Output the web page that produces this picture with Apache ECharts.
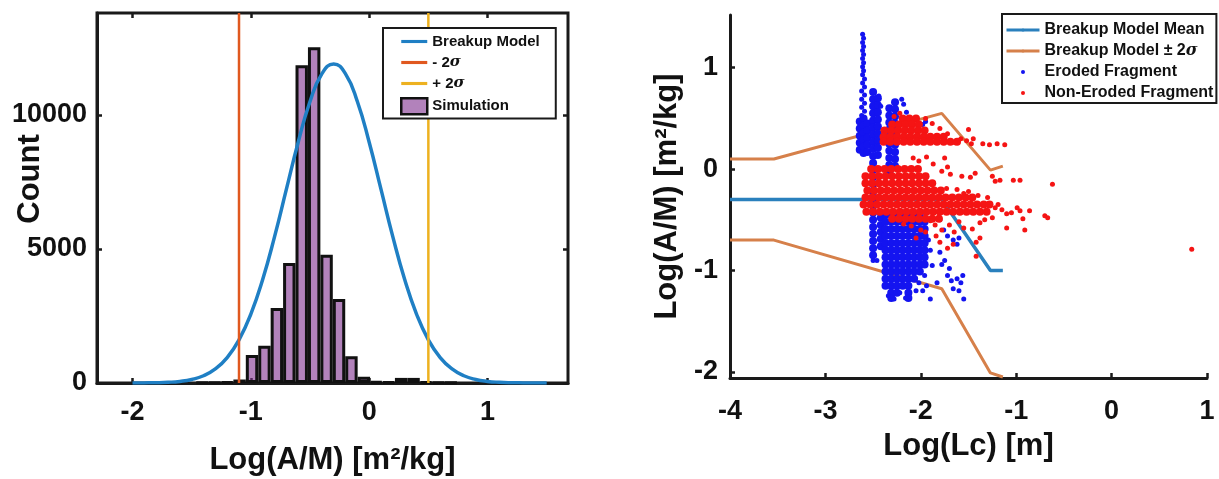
<!DOCTYPE html>
<html>
<head>
<meta charset="utf-8">
<title>Breakup model vs simulation</title>
<script src="https://cdn.jsdelivr.net/npm/echarts@6/dist/echarts.min.js"></script>
<style>
  html, body { margin: 0; padding: 0; background: #fff; }
  #main { width: 1219px; height: 479px; }
</style>
</head>
<body>
<div id="main"></div>
<script>
// ---------- left panel: histogram of Log(A/M) ----------
var binCenters = [-1.41, -1.305, -1.2, -1.095, -0.99, -0.885, -0.78, -0.675, -0.57, -0.465,
                  -0.36, -0.255, -0.15, -0.045, 0.06, 0.165, 0.27, 0.375, 0.48, 0.585, 0.69];
var binCounts = [10, 20, 40, 130, 1040, 1390, 2800, 4480, 11850, 12520,
                 4780, 3130, 1000, 230, 50, 40, 190, 190, 40, 20, 10];
var binStep = 0.105;

var modelX = [-2.0, -1.9, -1.8, -1.7, -1.6, -1.5, -1.4, -1.3, -1.2, -1.1, -1.0, -0.9, -0.8, -0.7, -0.6, -0.5, -0.4, -0.3,
              -0.2, -0.1, 0.0, 0.1, 0.2, 0.3, 0.4, 0.5, 0.6, 0.7, 0.8, 0.9, 1.0, 1.1, 1.2, 1.3, 1.4, 1.5];
var modelCount = [1, 4, 10, 26, 60, 132, 271, 523, 947, 1610, 2570, 3860, 5450, 7220, 8980, 10500, 11530, 11900,
                  11530, 10500, 8980, 7220, 5450, 3860, 2570, 1610, 947, 523, 271, 132, 60, 26, 10, 4, 1, 0];
var sigmaMinus = -1.1;
var sigmaPlus = 0.5;
var histXRange = [-2.3, 1.68];
var histYRange = [0, 13800];
var histXTicks = [-2, -1, 0, 1];
var histYTicks = [0, 5000, 10000];

// ---------- right panel: Log(A/M) vs Log(Lc) ----------
var meanLc = [-4, -1.78, -1.27, -1.14];
var meanAM = [-0.3, -0.3, -1.0, -1.0];
var upperLc = [-4, -3.54, -1.78, -1.27, -1.14];
var upperAM = [0.1, 0.1, 0.55, -0.01, 0.03];
var lowerLc = [-4, -3.54, -1.78, -1.27, -1.14];
var lowerAM = [-0.7, -0.7, -1.18, -2.01, -2.05];
var lcRange = [-4, 1];
var amRange = [-2.06, 1.52];
var amTicks = [-2, -1, 0, 1];

// eroded fragments: dense vertical streaks, [Lc, [A/M values...]]
var erodedColumns = [
  [-2.64, [0.47, 0.4, 0.33, 0.26, 0.19]],
  [-2.6, [0.5, 0.43, 0.36, 0.29, 0.22, 0.16]],
  [-2.56, [0.45, 0.38, 0.31, 0.24, 0.17]],
  [-2.5, [0.76, 0.69, 0.62, 0.55, 0.48, 0.41, 0.34, 0.27, 0.2, 0.13, 0.06, -0.01, -0.08, -0.15, -0.22, -0.29,
          -0.36, -0.43, -0.5, -0.57, -0.64, -0.71, -0.78, -0.85]],
  [-2.45, [0.7, 0.63, 0.56, 0.49, 0.42, 0.35, 0.28, 0.21, 0.14]],
  [-2.42, [-0.48, -0.55, -0.62, -0.69, -0.76]],
  [-2.33, [0.6, 0.53, 0.46, 0.39, 0.32, 0.25, 0.18, 0.11, 0.04, -0.03]],
  [-2.27, [0.66, 0.59, 0.52, 0.45, 0.38, 0.31, 0.24, 0.17, 0.1, 0.03]],
  [-2.37, [-0.45, -0.52, -0.59, -0.66, -0.73, -0.8, -0.87, -0.94, -1.01, -1.08, -1.15]],
  [-2.31, [-0.45, -0.52, -0.59, -0.66, -0.73, -0.8, -0.87, -0.94, -1.01, -1.08, -1.15, -1.22, -1.27]],
  [-2.25, [-0.45, -0.52, -0.59, -0.66, -0.73, -0.8, -0.87, -0.94, -1.01, -1.08, -1.15, -1.22]],
  [-2.19, [-0.45, -0.52, -0.59, -0.66, -0.73, -0.8, -0.87, -0.94, -1.01, -1.08, -1.15]],
  [-2.13, [-0.45, -0.52, -0.59, -0.66, -0.73, -0.8, -0.87, -0.94, -1.01, -1.08, -1.15, -1.22, -1.27]],
  [-2.07, [-0.45, -0.52, -0.59, -0.66, -0.73, -0.8, -0.87, -0.94, -1.01, -1.08]],
  [-2.01, [-0.45, -0.52, -0.59, -0.66, -0.73, -0.8, -0.87, -0.94, -1.01]],
  [-1.96, [-0.52, -0.59, -0.66, -0.73, -0.8, -0.87, -0.94]]
];
// eroded fragments: single dots
var erodedDots = [
  [-2.61, 1.33], [-2.6, 1.29], [-2.61, 1.25], [-2.6, 1.21], [-2.61, 1.17], [-2.6, 1.13], [-2.61, 1.09], [-2.6, 1.05],
  [-2.61, 1.01], [-2.6, 0.97], [-2.61, 0.93], [-2.59, 0.89], [-2.61, 0.85], [-2.59, 0.81], [-2.62, 0.77], [-2.59, 0.73],
  [-2.62, 0.69], [-2.59, 0.65], [-2.62, 0.61], [-2.59, 0.57], [-2.62, 0.53],
  [-2.2, 0.69], [-2.18, 0.64], [-2.15, 0.56], [-1.98, 0.44], [-1.95, 0.47], [-2.42, 0.62], [-2.44, 0.72],
  [-2.46, -0.9], [-2.5, -0.9],
  [-1.92, -0.7], [-1.9, -0.8], [-1.88, -0.95], [-1.85, -0.42], [-1.8, -0.5], [-1.76, -0.6], [-1.72, -0.66],
  [-1.8, -0.82], [-1.75, -0.9], [-1.78, -0.94], [-1.66, -0.7], [-1.62, -0.74], [-1.6, -0.68], [-1.83, -1.12],
  [-1.9, -1.28], [-1.72, -1.05], [-1.68, -1.1], [-1.62, -1.08], [-1.58, -1.12], [-1.56, -1.05], [-1.6, -1.2],
  [-1.55, -1.28], [-1.66, -1.18], [-1.7, -0.98], [-1.96, -1.05], [-1.94, -1.15], [-1.98, -1.2], [-2.02, -1.12],
  [-2.05, -1.2], [-2.16, -1.27], [-2.28, -1.28], [-2.34, -1.25], [-2.22, -1.22]
];

// non-eroded fragments: dense horizontal bands, [A/M, [Lc values...]]
var nonErodedRows = [
  [0.5, [-2.19, -2.12, -2.05]],
  [0.44, [-2.3, -2.23, -2.16, -2.09, -2.02]],
  [0.38, [-2.38, -2.31, -2.24, -2.17, -2.1, -2.03, -1.96]],
  [0.32, [-2.39, -2.32, -2.25, -2.18, -2.11, -2.04, -1.97, -1.9, -1.83, -1.76]],
  [0.27, [-2.39, -2.32, -2.25, -2.18, -2.11, -2.04, -1.97, -1.9, -1.83, -1.76, -1.69, -1.62]],
  [0.0, [-2.52, -2.45, -2.38, -2.31, -2.24, -2.17, -2.1, -2.03]],
  [-0.07, [-2.58, -2.51, -2.44, -2.37, -2.3, -2.23, -2.16, -2.09, -2.02, -1.95]],
  [-0.14, [-2.58, -2.51, -2.44, -2.37, -2.3, -2.23, -2.16, -2.09, -2.02, -1.95, -1.88]],
  [-0.21, [-2.56, -2.49, -2.42, -2.35, -2.28, -2.21, -2.14, -2.07, -2.0, -1.93, -1.86, -1.79]],
  [-0.28, [-2.58, -2.51, -2.44, -2.37, -2.3, -2.23, -2.16, -2.09, -2.02, -1.95, -1.88, -1.81, -1.74, -1.67, -1.6, -1.53, -1.46]],
  [-0.35, [-2.6, -2.53, -2.46, -2.39, -2.32, -2.25, -2.18, -2.11, -2.04, -1.97, -1.9, -1.83, -1.76, -1.69, -1.62,
           -1.55, -1.48, -1.41, -1.34, -1.28]],
  [-0.42, [-2.57, -2.5, -2.43, -2.36, -2.29, -2.22, -2.15, -2.08, -2.01, -1.94, -1.87, -1.8, -1.73, -1.66, -1.59,
           -1.52, -1.45, -1.38, -1.31]],
  [-0.49, [-2.3, -2.23, -2.16, -2.09, -2.02, -1.95, -1.88, -1.81]]
];
// non-eroded fragments: single dots
var nonErodedDots = [
  [-1.52, 0.28], [-1.47, 0.25], [-1.45, 0.3], [-1.5, 0.39], [-1.35, 0.25], [-1.28, 0.24], [-1.2, 0.25], [-1.12, 0.24],
  [-1.58, 0.3], [-1.64, 0.26], [-1.72, 0.35], [-1.8, 0.4], [-1.88, 0.45], [-1.95, 0.5], [-2.28, 0.52], [-2.22, 0.55],
  [-2.08, 0.11], [-2.02, 0.08], [-1.94, 0.12], [-1.87, 0.05], [-1.75, 0.11], [-1.72, 0.02], [-1.78, -0.02],
  [-1.69, -0.05], [-1.57, -0.07], [-1.48, -0.08], [-1.43, -0.04], [-1.25, -0.07], [-1.22, -0.12], [-1.17, -0.11],
  [-1.03, -0.11], [-0.96, -0.11], [-0.62, -0.15], [-1.62, -0.2], [-1.73, -0.19], [-1.55, -0.24], [-1.5, -0.22],
  [-1.4, -0.26], [-1.3, -0.28],
  [-1.22, -0.38], [-1.19, -0.35], [-1.15, -0.4], [-1.1, -0.44], [-1.05, -0.43], [-0.99, -0.38], [-0.96, -0.41],
  [-0.86, -0.41], [-0.93, -0.49], [-0.91, -0.6], [-0.7, -0.46], [-0.67, -0.48],
  [-1.1, -0.58], [-1.25, -0.48], [-1.38, -0.53], [-1.33, -0.5], [-1.46, -0.59], [-1.38, -0.68], [-1.42, -0.72],
  [-1.42, -0.86], [-1.55, -0.58], [-1.6, -0.52], [-1.65, -0.62], [-1.7, -0.55], [-1.66, -0.74], [-1.78, -0.6],
  [-1.72, -0.78], [-1.8, -0.72], [-1.85, -0.55], [-1.9, -0.51], [-1.95, -0.62], [-2.0, -0.6], [-2.05, -0.68],
  [-2.1, -0.56], [-2.18, -0.54], [-1.84, -0.66],
  [0.84, -0.79]
];

// ---------- build series data ----------
function zip(xs, ys) {
  return xs.map(function (x, i) { return [x, ys[i]]; });
}
var histData = zip(binCenters, binCounts);
var modelData = zip(modelX, modelCount);
var erodedDense = [];
erodedColumns.forEach(function (c) { c[1].forEach(function (y) { erodedDense.push([c[0], y]); }); });
var nonErodedDense = [];
nonErodedRows.forEach(function (r) { r[1].forEach(function (x) { nonErodedDense.push([x, r[0]]); }); });

var FONT = '"Liberation Sans", Arial, Helvetica, sans-serif';
var INK = '#1a1a1a';
var tickFont = { fontFamily: FONT, fontWeight: 'bold', fontSize: 27, color: '#111' };
var nameFont = { fontFamily: FONT, fontWeight: 'bold', fontSize: 31, color: '#111' };

// left grid geometry (px), used for the bar width
var leftGrid = { left: 97, top: 13, width: 471, height: 370 };
var barPx = leftGrid.width / (histXRange[1] - histXRange[0]) * binStep;

// flat bar used as legend icon for line series (no marker)
var LINE_ICON = 'path://M0,0H100V12H0Z';

function sigmaFmt(name) {
  var i = name.indexOf('σ');
  if (i < 0) return name;
  return '{b|' + name.slice(0, i) + '}{s|σ}';
}
function legendText(size) {
  return {
    fontFamily: FONT, fontWeight: 'bold', fontSize: size, color: '#111',
    rich: {
      b: { fontFamily: FONT, fontWeight: 'bold', fontSize: size, color: '#111' },
      s: { fontFamily: '"DejaVu Serif", serif', fontStyle: 'italic', fontWeight: 'bold', fontSize: size, color: '#111' }
    }
  };
}

var chart = echarts.init(document.getElementById('main'), null, { renderer: 'canvas' });

var option = {
  animation: false,
  backgroundColor: '#fff',
  grid: [
    { left: leftGrid.left, top: leftGrid.top, width: leftGrid.width, height: leftGrid.height,
      outerBoundsMode: 'none', containLabel: false,
      show: true, borderColor: INK, borderWidth: 3, backgroundColor: 'transparent' },
    { left: 730, top: 15, width: 477, height: 363, outerBoundsMode: 'none', containLabel: false }
  ],
  // y title of the histogram, placed a little above the axis middle as in the figure
  graphic: [{
    type: 'text', x: 30, y: 179, rotation: Math.PI / 2,
    style: { text: 'Count', font: 'bold 31px "Liberation Sans", Arial, sans-serif', fill: '#111',
             align: 'center', verticalAlign: 'middle' }
  }],
  legend: [
    {
      data: [
        { name: 'Breakup Model', icon: LINE_ICON },
        { name: '- 2σ', icon: LINE_ICON },
        { name: '+ 2σ', icon: LINE_ICON },
        { name: 'Simulation', icon: 'rect', itemStyle: { borderColor: '#111', borderWidth: 2.5 } }
      ],
      orient: 'vertical', left: 383, top: 28,
      selectedMode: false,
      backgroundColor: '#fff', borderColor: INK, borderWidth: 2,
      padding: [6, 16, 3, 17],
      itemWidth: 26, itemHeight: 16, itemGap: 6,
      itemStyle: { borderWidth: 0 },
      formatter: sigmaFmt,
      textStyle: legendText(15)
    },
    {
      data: ['Breakup Model Mean', 'Breakup Model ± 2σ',
             { name: 'Eroded Fragment', icon: 'circle' }, { name: 'Non-Eroded Fragment', icon: 'circle' }],
      orient: 'vertical', left: 1002, top: 14,
      selectedMode: false,
      backgroundColor: '#fff', borderColor: INK, borderWidth: 2,
      padding: [8, 3, 2, 3],
      itemWidth: 33, itemHeight: 4, itemGap: 5,
      lineStyle: { width: 3 },
      formatter: sigmaFmt,
      textStyle: legendText(16)
    }
  ],
  xAxis: [
    {
      gridIndex: 0, type: 'value', min: histXRange[0], max: histXRange[1],
      axisLine: { show: true, onZero: false, lineStyle: { color: INK, width: 3 } },
      axisTick: { show: true, inside: true, length: 5, customValues: histXTicks, lineStyle: { color: INK, width: 2.5 } },
      axisLabel: { customValues: histXTicks, margin: 16, formatter: function (v) { return String(v); } },
      splitLine: { show: false },
      name: 'Log(A/M) [m²/kg]', nameLocation: 'middle', nameGap: 62, nameTextStyle: nameFont
    },
    {
      gridIndex: 0, type: 'value', position: 'top', min: histXRange[0], max: histXRange[1],
      axisLine: { show: false, onZero: false },
      axisTick: { show: true, inside: true, length: 5, customValues: histXTicks, lineStyle: { color: INK, width: 2.5 } },
      axisLabel: { show: false }, splitLine: { show: false }
    },
    {
      gridIndex: 1, type: 'value', min: lcRange[0], max: lcRange[1], interval: 1,
      axisLine: { show: true, onZero: false, lineStyle: { color: INK, width: 3 } },
      axisTick: { show: true, inside: true, length: 5, lineStyle: { color: INK, width: 2.5 } },
      axisLabel: { margin: 20 },
      splitLine: { show: false },
      name: 'Log(Lc) [m]', nameLocation: 'middle', nameGap: 53, nameTextStyle: nameFont
    }
  ],
  yAxis: [
    {
      gridIndex: 0, type: 'value', min: histYRange[0], max: histYRange[1],
      axisLine: { show: true, onZero: false, lineStyle: { color: INK, width: 3 } },
      axisTick: { show: true, inside: true, length: 5, customValues: histYTicks, lineStyle: { color: INK, width: 2.5 } },
      axisLabel: { customValues: histYTicks, margin: 10, formatter: function (v) { return String(v); } },
      splitLine: { show: false }
    },
    {
      gridIndex: 0, type: 'value', position: 'right', min: histYRange[0], max: histYRange[1],
      axisLine: { show: false, onZero: false },
      axisTick: { show: true, inside: true, length: 5, customValues: histYTicks, lineStyle: { color: INK, width: 2.5 } },
      axisLabel: { show: false }, splitLine: { show: false }
    },
    {
      gridIndex: 1, type: 'value', min: amRange[0], max: amRange[1],
      axisLine: { show: true, onZero: false, lineStyle: { color: INK, width: 3 } },
      axisTick: { show: true, inside: true, length: 5, customValues: amTicks, lineStyle: { color: INK, width: 2.5 } },
      axisLabel: { customValues: amTicks, margin: 12, formatter: function (v) { return String(v); } },
      splitLine: { show: false },
      name: 'Log(A/M) [m²/kg]', nameLocation: 'middle', nameGap: 47, nameTextStyle: nameFont
    }
  ],
  series: [
    // left panel
    {
      name: 'Breakup Model', type: 'line', xAxisIndex: 0, yAxisIndex: 0,
      data: modelData, smooth: true, symbol: 'none',
      lineStyle: { color: '#1f7fc4', width: 3.5 }, itemStyle: { color: '#1f7fc4' }
    },
    {
      name: '- 2σ', type: 'line', xAxisIndex: 0, yAxisIndex: 0,
      data: [[sigmaMinus, histYRange[0]], [sigmaMinus, histYRange[1]]], symbol: 'none',
      lineStyle: { color: '#e0581f', width: 2.5 }, itemStyle: { color: '#e0581f' }
    },
    {
      name: '+ 2σ', type: 'line', xAxisIndex: 0, yAxisIndex: 0,
      data: [[sigmaPlus, histYRange[0]], [sigmaPlus, histYRange[1]]], symbol: 'none',
      lineStyle: { color: '#edb120', width: 2.5 }, itemStyle: { color: '#edb120' }
    },
    {
      name: 'Simulation', type: 'bar', xAxisIndex: 0, yAxisIndex: 0,
      data: histData, barWidth: barPx, barGap: '-100%',
      itemStyle: { color: 'rgba(126,47,142,0.6)', borderColor: '#111', borderWidth: 3 }
    },
    // right panel
    {
      name: 'Eroded Fragment', type: 'scatter', xAxisIndex: 2, yAxisIndex: 2,
      data: erodedDense, symbolSize: 8, itemStyle: { color: '#1414f0', opacity: 1 }
    },
    {
      name: 'Eroded Fragment', type: 'scatter', xAxisIndex: 2, yAxisIndex: 2,
      data: erodedDots, symbolSize: 5, itemStyle: { color: '#1414f0', opacity: 1 }
    },
    {
      name: 'Non-Eroded Fragment', type: 'scatter', xAxisIndex: 2, yAxisIndex: 2,
      data: nonErodedDense, symbolSize: 8, itemStyle: { color: '#f51414', opacity: 1 }
    },
    {
      name: 'Non-Eroded Fragment', type: 'scatter', xAxisIndex: 2, yAxisIndex: 2,
      data: nonErodedDots, symbolSize: 5, itemStyle: { color: '#f51414', opacity: 1 }
    },
    {
      name: 'Breakup Model Mean', type: 'line', xAxisIndex: 2, yAxisIndex: 2,
      data: zip(meanLc, meanAM), symbol: 'none', z: 1,
      lineStyle: { color: '#2a80bd', width: 3.5 }, itemStyle: { color: '#2a80bd' }
    },
    {
      name: 'Breakup Model ± 2σ', type: 'line', xAxisIndex: 2, yAxisIndex: 2,
      data: zip(upperLc, upperAM), symbol: 'none', z: 1,
      lineStyle: { color: '#d6804a', width: 3 }, itemStyle: { color: '#d6804a' }
    },
    {
      name: 'Breakup Model ± 2σ', type: 'line', xAxisIndex: 2, yAxisIndex: 2,
      data: zip(lowerLc, lowerAM), symbol: 'none', z: 1,
      lineStyle: { color: '#d6804a', width: 3 }, itemStyle: { color: '#d6804a' }
    }
  ],
  textStyle: tickFont
};

// tick label fonts
option.xAxis.concat(option.yAxis).forEach(function (a) {
  a.axisLabel = Object.assign({}, tickFont, a.axisLabel);
});

chart.setOption(option);
</script>
</body>
</html>
